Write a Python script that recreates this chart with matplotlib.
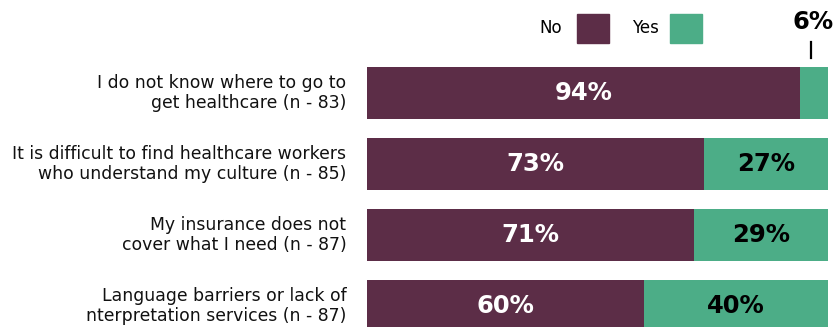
import matplotlib.pyplot as plt
from matplotlib.patches import Rectangle

# survey answers, percent of respondents
labels = [
    "I do not know where to go to\nget healthcare (n - 83)",
    "It is difficult to find healthcare workers\nwho understand my culture (n - 85)",
    "My insurance does not\ncover what I need (n - 87)",
    "Language barriers or lack of\nnterpretation services (n - 87)",
]
no_pct = [94, 73, 71, 60]
yes_pct = [6, 27, 29, 40]

NO_COLOR = "#5c2d47"
YES_COLOR = "#4cad87"

fig = plt.figure(figsize=(8.38, 3.27), dpi=100)
W, H = 838, 327
ax = fig.add_axes([367 / W, 0, (828 - 367) / W, 1])

ypos = list(range(len(labels)))
ax.barh(ypos, no_pct, height=0.73, color=NO_COLOR)
ax.barh(ypos, yes_pct, left=no_pct, height=0.73, color=YES_COLOR)
ax.set_xlim(0, 100)
# rows are 71px apart, first row centred 93px from top
ax.set_ylim((H - 93) / 71, -93 / 71)
ax.axis("off")

for i, (n, y) in enumerate(zip(no_pct, yes_pct)):
    ax.text(n / 2, i, f"{n}%", ha="center", va="center", color="white",
            fontsize=17.5, fontweight="heavy")
    if y >= 10:
        ax.text(n + y / 2, i, f"{y}%", ha="center", va="center", color="black",
                fontsize=17.5, fontweight="heavy")
    else:
        # too thin for a label inside, put it above with a tick
        ax.text(n + y / 2 - 0.2, -1.0, f"{y}%", ha="center", va="center",
                color="black", fontsize=17.5, fontweight="heavy", clip_on=False)
        ax.plot([n + y / 2 - 0.7] * 2, [-0.72, -0.49], color="black", lw=1.6,
                clip_on=False)
    ax.text(-4.5, i, labels[i], ha="right", va="center", fontsize=12.4,
            color="#111111", linespacing=1.12, clip_on=False)

# legend
fig.text(551 / W, 1 - 28 / H, "No", ha="center", va="center", fontsize=12)
fig.patches.append(Rectangle((577 / W, 1 - 43 / H), 32 / W, 29 / H,
                             transform=fig.transFigure, color=NO_COLOR))
fig.text(645 / W, 1 - 28 / H, "Yes", ha="center", va="center", fontsize=12)
fig.patches.append(Rectangle((670 / W, 1 - 43 / H), 32 / W, 29 / H,
                             transform=fig.transFigure, color=YES_COLOR))

fig.savefig("out.png", dpi=100)
